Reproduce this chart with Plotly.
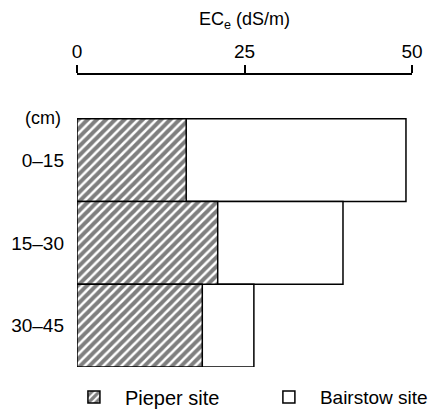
import plotly.graph_objects as go

# data
depths = ["0–15", "15–30", "30–45"]
pieper = [16.3, 21.0, 18.7]
bairstow = [49.1, 39.7, 26.4]
x_ticks = [0, 25, 50]

FONT = "Liberation Sans, Arial, sans-serif"

fig = go.Figure()

# Bairstow drawn first so it sits behind
fig.add_trace(
    go.Bar(
        y=depths,
        x=bairstow,
        orientation="h",
        name="Bairstow site",
        width=1,
        legend="legend2",
        showlegend=True,
        marker=dict(
            color="white",
            line=dict(color="black", width=1.5)
        )
    )
)

fig.add_trace(
    go.Bar(
        y=depths,
        x=pieper,
        orientation="h",
        name="Pieper site",
        width=1,
        legend="legend",
        showlegend=True,
        marker=dict(
            color="white",
            line=dict(color="black", width=1.5),
            pattern=dict(
                shape="/",
                fgcolor="black",
                bgcolor="white",
                size=6.5,
                solidity=0.62
            )
        )
    )
)

legend_style = dict(
    orientation="h",
    xanchor="left",
    y=-0.103,
    yanchor="middle",
    itemwidth=52,
    bgcolor="rgba(0,0,0,0)"
)

# page body adds an 8px offset, so the figure is 8px smaller than the window
fig.update_layout(
    width=432,
    height=406,
    showlegend=True,
    barmode="overlay",
    plot_bgcolor="white",
    paper_bgcolor="white",
    font=dict(family=FONT, size=18, color="black"),
    margin=dict(l=69, r=28, t=67, b=47, autoexpand=False),
    legend=dict(x=-0.042, font=dict(family=FONT, size=20), **legend_style),
    legend2=dict(x=0.54, font=dict(family=FONT, size=19), **legend_style),
    annotations=[
        dict(
            text="EC<sub>e</sub> (dS/m)",
            xref="paper",
            yref="paper",
            x=0.5,
            y=1.0,
            yshift=55,
            yanchor="middle",
            showarrow=False,
            font=dict(family=FONT, size=18)
        ),
        dict(
            text="(cm)",
            xref="paper",
            yref="paper",
            x=-0.042,
            xanchor="right",
            y=0.853,
            yanchor="middle",
            showarrow=False,
            font=dict(family=FONT, size=18)
        )
    ]
)

fig.update_xaxes(
    side="top",
    range=[0, 50],
    tickvals=x_ticks,
    ticks="outside",
    ticklen=8,
    tickwidth=1.5,
    tickcolor="black",
    showline=True,
    linecolor="black",
    linewidth=1.5,
    showgrid=False,
    zeroline=False,
    automargin=False,
    tickfont=dict(family=FONT, size=19)
)

fig.update_yaxes(
    categoryorder="array",
    categoryarray=depths,
    range=[2.5, -1.03],
    showline=False,
    showgrid=False,
    zeroline=False,
    ticks="",
    automargin=False,
    ticklabelstandoff=12,
    tickfont=dict(family=FONT, size=19)
)

fig.write_html("out.html")
